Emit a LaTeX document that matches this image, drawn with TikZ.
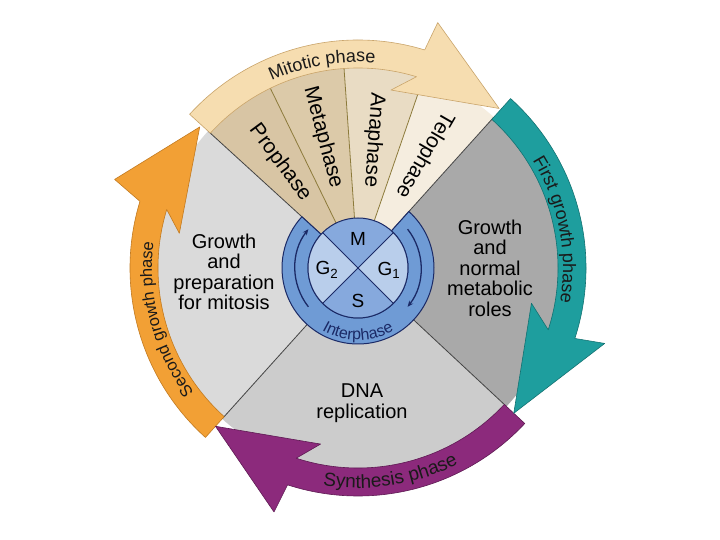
\documentclass[tikz,border=0pt]{standalone}
\usepackage{fontspec}
\setmainfont{Liberation Sans}
\usetikzlibrary{decorations.text,arrows.meta}
\definecolor{mitband}{HTML}{F6DDB0}
\definecolor{mitline}{HTML}{C9A46A}
\definecolor{pro}{HTML}{D8C5A4}
\definecolor{meta}{HTML}{DCCAA9}
\definecolor{ana}{HTML}{E9DCC4}
\definecolor{telo}{HTML}{F5EDDF}
\definecolor{wline}{HTML}{8C7A3A}
\definecolor{tealc}{HTML}{1E9E9E}
\definecolor{tealline}{HTML}{137272}
\definecolor{purp}{HTML}{8C2A7C}
\definecolor{purpline}{HTML}{5E1A53}
\definecolor{orng}{HTML}{F2A035}
\definecolor{orngline}{HTML}{C27A20}
\definecolor{gtwo}{HTML}{DADADA}
\definecolor{sreg}{HTML}{CCCCCC}
\definecolor{gone}{HTML}{A9A9A9}
\definecolor{secline}{HTML}{444444}
\definecolor{ringblue}{HTML}{6F9BD5}
\definecolor{mblue}{HTML}{86A9DD}
\definecolor{lblue}{HTML}{B9CEEB}
\definecolor{navy}{HTML}{1B2A66}
\definecolor{bandtext}{HTML}{1A1A1A}
\begin{document}
\begin{tikzpicture}[x=1pt,y=1pt,
  sectline/.style={draw=secline, line width=0.8pt},
  wedgeline/.style={draw=wline, line width=0.8pt},
  biglabel/.style={align=center, font=\fontsize{20}{20.5}\selectfont, inner sep=0pt},
  wlabel/.style={font=\fontsize{21}{21}\selectfont, inner sep=0pt},
  inlabel/.style={font=\fontsize{19}{19}\selectfont, inner sep=0pt},
  arrowband/.style={line width=0.6pt, line join=round}]
\fill[white] (-358,-272) rectangle (362,268);
\useasboundingbox (-358,-272) rectangle (362,268);
% main sectors
\fill[gtwo] (0,0) -- (137.6:203) arc[start angle=137.6,end angle=228,radius=203] -- cycle;
\fill[sreg] (0,0) -- (228:203) arc[start angle=228,end angle=317,radius=203] -- cycle;
\fill[gone] (0,0) -- (-43:203) arc[start angle=-43,end angle=48,radius=203] -- cycle;
% mitotic wedges
\fill[pro] (0,0) -- (116:203) arc[start angle=116,end angle=137.6,radius=203] -- cycle;
\fill[meta] (0,0) -- (94:203) arc[start angle=94,end angle=116,radius=203] -- cycle;
\fill[ana] (0,0) -- (71:203) arc[start angle=71,end angle=94,radius=203] -- cycle;
\fill[telo] (0,0) -- (48:203) arc[start angle=48,end angle=71,radius=203] -- cycle;
\draw[wedgeline] (116:50) -- (116:203);
\draw[wedgeline] (94:50) -- (94:203);
\draw[wedgeline] (71:50) -- (71:203);
\draw[sectline] (137.6:50) -- (137.6:203);
\draw[sectline] (48:50) -- (48:203);
\draw[sectline] (-43:50) -- (-43:203);
\draw[sectline] (228:50) -- (228:203);
% arrows
\filldraw[arrowband, fill=orng, draw=orngline] (-132:228) arc[start angle=-132,end angle=-197,radius=228] -- (-200:259) -- (-221.7:212) -- (-191:182) -- (-197:200) arc[start angle=-197,end angle=-132,radius=200] -- cycle;
\filldraw[arrowband, fill=purp, draw=purpline] (-43:228) arc[start angle=-43,end angle=-108,radius=228] -- (-109:258) -- (-132:213) -- (-102:180) -- (-108:200) arc[start angle=-108,end angle=-43,radius=200] -- cycle;
\filldraw[arrowband, fill=tealc, draw=tealline] (48:228) arc[start angle=48,end angle=-18,radius=228] -- (-17:258) -- (-43:213) -- (-11.5:177) -- (-18:200) arc[start angle=-18,end angle=48,radius=200] -- cycle;
\filldraw[arrowband, fill=mitband, draw=mitline] (137.6:228) arc[start angle=137.6,end angle=73,radius=228] -- (72:258) -- (48.5:213) -- (79.5:181) -- (73:200) arc[start angle=73,end angle=137.6,radius=200] -- cycle;
% band texts
\path[decorate,decoration={text along path,text align=center,text color=bandtext,
  text={|\fontsize{18}{18}\selectfont|Mitotic phase}}]
  (125:206) arc[start angle=125,end angle=75,radius=206];
\path[decorate,decoration={text along path,text align=center,text color=bandtext,
  text={|\fontsize{18}{18}\selectfont|First growth phase}}]
  (45:205) arc[start angle=45,end angle=-23,radius=205];
\path[decorate,decoration={text along path,text align=center,text color=bandtext,
  text={|\fontsize{19}{19}\selectfont|Synthesis phase}}]
  (-115:220) arc[start angle=-115,end angle=-47,radius=220];
\path[decorate,decoration={text along path,text align=center,text color=bandtext,
  text={|\fontsize{16.5}{16.5}\selectfont|Second growth phase}}]
  (229:206) arc[start angle=229,end angle=161,radius=206];
% inner ring
\filldraw[fill=ringblue, draw=navy, line width=1pt] (48:76) arc[start angle=48,end angle=-222.4,radius=76] -- (-222.4:50) arc[start angle=-222.4,end angle=48,radius=50] -- cycle;
\fill[mblue] (0,0) -- (45:50) arc[start angle=45,end angle=135,radius=50] -- cycle;
\fill[lblue] (0,0) -- (135:50) arc[start angle=135,end angle=225,radius=50] -- cycle;
\fill[mblue] (0,0) -- (225:50) arc[start angle=225,end angle=315,radius=50] -- cycle;
\fill[lblue] (0,0) -- (-45:50) arc[start angle=-45,end angle=45,radius=50] -- cycle;
\draw[navy, line width=1pt] (45:50) -- (225:50);
\draw[navy, line width=1pt] (135:50) -- (-45:50);
\draw[navy, line width=1pt] (0,0) circle[radius=50];
\draw[navy, line width=1.3pt, -{Stealth[length=6pt,width=5pt]}] (38:63) arc[start angle=38,end angle=-38,radius=63];
\draw[navy, line width=1.3pt, -{Stealth[length=6pt,width=5pt]}] (218:63) arc[start angle=218,end angle=142,radius=63];
\path[decorate,decoration={text along path,text align=center,text color=navy,
  text={|\fontsize{16}{16}\selectfont|Interphase}}]
  (-132:72) arc[start angle=-132,end angle=-48,radius=72];
% wedge labels
\node[wlabel, rotate=-53.5] (prophase) at (126.5:131) {Prophase};
\node[wlabel, rotate=-75] (metaphase) at (105:135) {Metaphase};
\node[wlabel, rotate=-94] (anaphase) at (83:129) {Anaphase};
\node[wlabel, rotate=240] (telophase) at (59.5:131) {Telophase};
% region labels
\node[biglabel] (g2text) at (-134,-4) {Growth\\and\\preparation\\for mitosis};
\node[biglabel] (g1text) at (132,0) {Growth\\and\\normal\\metabolic\\roles};
\node[biglabel] (stext) at (4,-135) {DNA\\replication};
% inner labels
\node[inlabel] (mlab) at (0,29) {M};
\node[inlabel] (slab) at (0,-33) {S};
\node[inlabel] (g2lab) at (-31,-2) {G\textsubscript{2}};
\node[inlabel] (g1lab) at (31,-2) {G\textsubscript{1}};
\end{tikzpicture}
\end{document}
